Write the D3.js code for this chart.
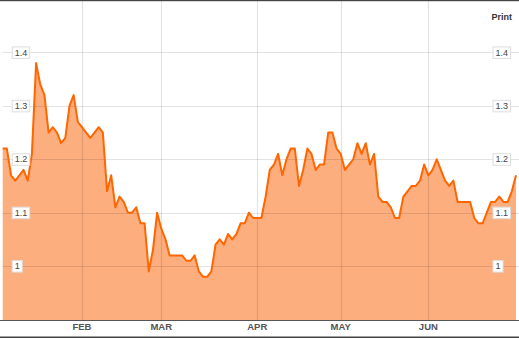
<!DOCTYPE html>
<html>
<head>
<meta charset="utf-8">
<script src="https://cdn.jsdelivr.net/npm/d3@7"></script>
<style>
  body { margin: 0; background: #fff; }
  svg { display: block; font-family: "Liberation Sans", Arial, sans-serif; }
</style>
</head>
<body>
<div id="chart"></div>
<script>
// daily closes, one per trading day
var values = [1.22,1.22,1.17,1.16,1.17,1.18,1.16,1.21,1.38,1.34,1.32,1.25,1.26,1.25,1.23,1.24,1.30,1.32,1.27,1.26,
  1.25,1.24,1.25,1.26,1.25,1.14,1.17,1.11,1.13,1.12,1.10,1.10,1.11,1.08,1.08,0.99,1.03,1.10,1.07,1.05,
  1.02,1.02,1.02,1.02,1.01,1.01,1.02,0.99,0.98,0.98,0.99,1.04,1.05,1.04,1.06,1.05,1.06,1.08,1.08,1.10,
  1.09,1.09,1.09,1.13,1.18,1.19,1.21,1.17,1.20,1.22,1.22,1.15,1.18,1.22,1.21,1.18,1.19,1.19,1.25,1.25,
  1.22,1.21,1.18,1.19,1.20,1.23,1.21,1.23,1.19,1.21,1.13,1.12,1.12,1.11,1.09,1.09,1.13,1.14,1.15,1.15,
  1.16,1.19,1.17,1.18,1.20,1.18,1.16,1.15,1.16,1.12,1.12,1.12,1.12,1.09,1.08,1.08,1.10,1.12,1.12,1.13,
  1.12,1.12,1.14,1.17];
// first trading day of each month
var monthLabels = ["FEB","MAR","APR","MAY","JUN"];
var monthIndex = [19,38,61,81,102];
var yTicks = [1,1.1,1.2,1.3,1.4];

var W = 519, H = 338;
var left = 2.7, right = 516, plotRight = 519, bottom = 320;

var svg = d3.select("#chart").append("svg")
  .attr("width", W)
  .attr("height", H);

var x = d3.scaleLinear().domain([0, values.length - 1]).range([left, right]);
var y = d3.scaleLinear().domain([0.9, 1.5]).range([319.5, -1]);

//area under the line
var area = d3.area()
  .x(function(d, i){ return x(i); })
  .y0(bottom)
  .y1(function(d){ return y(d); });
svg.append("path")
  .datum(values)
  .attr("d", area)
  .attr("fill", "#fdae7e");

//grid on top of the fill
svg.append("g").selectAll("line")
  .data(yTicks)
  .enter().append("line")
  .attr("x1", left).attr("x2", plotRight)
  .attr("y1", function(d){ return Math.round(y(d)) + 0.5; })
  .attr("y2", function(d){ return Math.round(y(d)) + 0.5; })
  .attr("stroke", "#000")
  .attr("stroke-opacity", 0.11)
  .attr("stroke-width", 1.2);
svg.append("g").selectAll("line")
  .data(monthIndex)
  .enter().append("line")
  .attr("x1", function(d){ return Math.round(x(d)) + 0.5; })
  .attr("x2", function(d){ return Math.round(x(d)) + 0.5; })
  .attr("y1", 0).attr("y2", bottom)
  .attr("stroke", "#000")
  .attr("stroke-opacity", 0.11)
  .attr("stroke-width", 1.2);

//the line
var line = d3.line()
  .x(function(d, i){ return x(i); })
  .y(function(d){ return y(d); });
svg.append("path")
  .datum(values)
  .attr("d", line)
  .attr("fill", "none")
  .attr("stroke", "#ff6600")
  .attr("stroke-width", 2)
  .attr("stroke-linejoin", "round");

//boxed y labels, both sides
[11.7, 492.5].forEach(function(bx){
  var lab = svg.append("g").selectAll("g")
    .data(yTicks)
    .enter().append("g")
    .attr("transform", function(d){ return "translate(" + bx + "," + y(d) + ")"; });
  lab.append("text")
    .attr("x", 3)
    .attr("y", 3.2)
    .attr("font-size", "9px")
    .attr("fill", "#444")
    .text(function(d){ return d3.format("")(d); })
    .each(function(){
      var w = this.getComputedTextLength();
      d3.select(this.parentNode).insert("rect", "text")
        .attr("x", 0.5).attr("y", -5.5)
        .attr("width", w + 5).attr("height", 11.5)
        .attr("fill", "#fff")
        .attr("stroke", "#ddd");
    });
});

//month axis
svg.append("line")
  .attr("x1", 0).attr("x2", W)
  .attr("y1", bottom + 0.5).attr("y2", bottom + 0.5)
  .attr("stroke", "#555");
svg.append("g").selectAll("text")
  .data(monthIndex)
  .enter().append("text")
  .attr("x", function(d){ return x(d); })
  .attr("y", 330)
  .attr("text-anchor", "middle")
  .attr("font-size", "9.5px")
  .attr("font-weight", "bold")
  .attr("fill", "#555")
  .text(function(d, i){ return monthLabels[i]; });

//frame lines top and bottom
svg.append("rect").attr("x", 0).attr("y", 0).attr("width", W).attr("height", 1.2).attr("fill", "#444");
svg.append("rect").attr("x", 0).attr("y", 336.5).attr("width", W).attr("height", 1.5).attr("fill", "#444");

svg.append("text")
  .attr("x", 491.5)
  .attr("y", 19.5)
  .attr("font-size", "9px")
  .attr("font-weight", "bold")
  .attr("fill", "#333")
  .text("Print");
</script>
</body>
</html>
